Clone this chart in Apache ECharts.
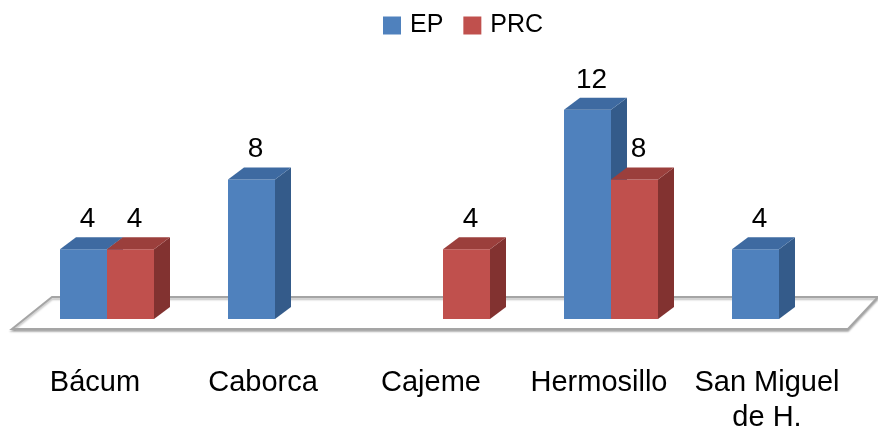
<!DOCTYPE html>
<html>
<head>
<meta charset="utf-8">
<script src="https://cdn.jsdelivr.net/npm/echarts@6/dist/echarts.min.js"></script>
<style>
  html, body { margin: 0; padding: 0; background: #fff; }
  #chart { width: 878px; height: 439px; }
</style>
</head>
<body>
<div id="chart"></div>
<script>
var categories = ['Bácum', 'Caborca', 'Cajeme', 'Hermosillo', 'San Miguel\nde H.']
var epValues = [4, 8, 0, 12, 4]
var prcValues = [4, 0, 4, 8, 0]

var FONT = "'Liberation Sans', Arial, sans-serif"
var BAR_W = 47
var DX = 16
var DY = 12

// colores de cara frontal, lateral y superior
var palette = {
  EP: { front: '#4f81bd', side: '#345b8a', top: '#3e6aa1' },
  PRC: { front: '#c0504d', side: '#823230', top: '#9b3f3c' }
}

function makeBar (name, side) {
  var c = palette[name]
  return function (params, api) {
    var idx = api.value(0)
    var val = api.value(1)
    if (!val) return null
    var base = api.coord([idx, 0])
    var top = api.coord([idx, val])
    var x0 = side < 0 ? base[0] - BAR_W : base[0]
    var x1 = x0 + BAR_W
    var yb = base[1]
    var yt = top[1]
    return {
      type: 'group',
      children: [
        { type: 'rect', shape: { x: x0, y: yt, width: BAR_W, height: yb - yt }, style: { fill: c.front } },
        { type: 'polygon', shape: { points: [[x1, yt], [x1 + DX, yt - DY], [x1 + DX, yb - DY], [x1, yb]] }, style: { fill: c.side } },
        { type: 'polygon', shape: { points: [[x0, yt], [x0 + DX, yt - DY], [x1 + DX, yt - DY], [x1, yt]] }, style: { fill: c.top } },
        {
          type: 'text',
          style: {
            text: String(val), x: (x0 + x1) / 2 + 4, y: yt - 16,
            align: 'center', verticalAlign: 'bottom',
            font: '28px ' + FONT, fill: '#000'
          }
        }
      ]
    }
  }
}

function renderFloor (params, api) {
  var cs = params.coordSys
  var yb = cs.y + cs.height
  var pts = [
    [cs.x - 11, yb + 10],
    [cs.x + 29, yb - 22],
    [cs.x + cs.width + 15, yb - 22],
    [cs.x + cs.width - 15, yb + 10]
  ]
  return {
    type: 'polygon',
    shape: { points: pts },
    style: { fill: '#fff', stroke: '#a5a5a5', lineWidth: 2, shadowColor: 'rgba(0,0,0,0.25)', shadowOffsetY: 2, shadowBlur: 2 }
  }
}

var chart = echarts.init(document.getElementById('chart'))
chart.setOption({
  animation: false,
  legend: {
    data: ['EP', 'PRC'],
    left: 378,
    top: 8,
    icon: 'rect',
    itemWidth: 18,
    itemHeight: 18,
    itemGap: 20,
    textStyle: { fontSize: 25, fontFamily: FONT, color: '#000', padding: [0, 0, 0, 4] }
  },
  grid: { left: 23, right: 15, top: 75, bottom: 120 },
  xAxis: {
    type: 'category',
    data: categories,
    axisLine: { show: false },
    axisTick: { show: false },
    axisLabel: {
      interval: 0,
      margin: 46,
      fontSize: 29,
      lineHeight: 35,
      fontFamily: FONT,
      color: '#000',
      padding: [0, 24, 0, 0]
    }
  },
  yAxis: { type: 'value', min: 0, max: 14, show: false, splitLine: { show: false } },
  series: [
    {
      name: 'floor', type: 'custom', renderItem: renderFloor,
      data: [[0]], silent: true, z: 1, legendHoverLink: false
    },
    {
      name: 'EP', type: 'custom', renderItem: makeBar('EP', -1),
      itemStyle: { color: palette.EP.front },
      data: categories.map(function (c, i) { return [i, epValues[i]] }), z: 2
    },
    {
      name: 'PRC', type: 'custom', renderItem: makeBar('PRC', 1),
      itemStyle: { color: palette.PRC.front },
      data: categories.map(function (c, i) { return [i, prcValues[i]] }), z: 3
    }
  ]
})
</script>
</body>
</html>
